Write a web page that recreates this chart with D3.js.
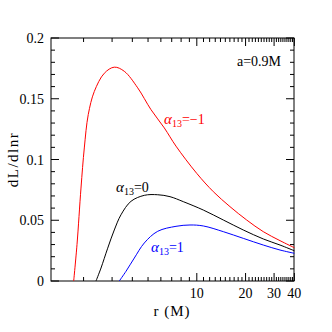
<!DOCTYPE html>
<html>
<head>
<meta charset="utf-8">
<script src="https://cdn.jsdelivr.net/npm/d3@7"></script>
<style>
  body { margin: 0; background: #fff; }
  text { font-family: 'Liberation Serif', serif; }
</style>
</head>
<body>
<svg id="chart"></svg>
<script>
// values
const rRed = [1.738, 1.822, 1.928, 2.021, 2.138, 2.33, 2.686, 3.095, 3.568, 4.316, 5.216, 6.301, 7.439, 9.99, 12.65, 16.03, 20.32, 25.73, 32.64, 40];
const vRed = [0, 0.030, 0.0765, 0.1095, 0.137, 0.156, 0.171, 0.176, 0.1726, 0.159, 0.141, 0.126, 0.111, 0.0886, 0.0735, 0.0612, 0.0502, 0.0406, 0.0332, 0.0274];

const rBlack = [2.387, 2.563, 2.818, 3.095, 3.404, 3.926, 4.742, 5.736, 6.833, 8.256, 10.97, 14.58, 19.36, 25.73, 32.64, 40];
const vBlack = [0, 0.0107, 0.027, 0.042, 0.0545, 0.0656, 0.0705, 0.071, 0.0694, 0.0653, 0.0584, 0.0502, 0.042, 0.0346, 0.0296, 0.0249];

const rBlue = [3.323, 3.656, 4.114, 4.742, 5.736, 7.439, 9.078, 10.97, 14.58, 19.36, 25.73, 32.64, 40];
const vBlue = [0, 0.008, 0.0189, 0.0313, 0.0409, 0.045, 0.0461, 0.0453, 0.0406, 0.0351, 0.0296, 0.0255, 0.0228];

const xLabels = [10, 20, 30, 40];
const yMajor = [0, 0.05, 0.1, 0.15, 0.2];
const yLabels = ['0', '0.05', '0.1', '0.15', '0.2'];

const margin = {top: 38, bottom: 51, left: 51, right: 38};
const width = 332 - margin.left - margin.right;
const height = 332 - margin.top - margin.bottom;

const svg = d3.select('#chart')
.attr('width', 332)
.attr('height', 332)
.append('g')
.attr('transform', `translate(${margin.left}, ${margin.top})`);

const x = d3.scaleLog()
.domain([Math.pow(10, 0.1), Math.pow(10, 1.6)])
.range([0, width]);

const y = d3.scaleLinear()
.domain([0, 0.2])
.range([height, 0]);

// tick positions: every integer on x, every 0.01 on y
const xMinor = d3.range(2, 41).filter(d => xLabels.indexOf(d) < 0);
const yMinor = d3.range(0, 21).map(d => d / 100).filter(d => d % 0.05 > 1e-6 && 0.05 - d % 0.05 > 1e-6);

function ticks(g, vals, len, isX) {
  vals.forEach(v => {
    if (isX) {
      const px = x(v);
      if (px > width + 0.5) return;
      g.append('line').attr('x1', px).attr('x2', px).attr('y1', height).attr('y2', height - len);
      g.append('line').attr('x1', px).attr('x2', px).attr('y1', 0).attr('y2', len);
    } else {
      const py = y(v);
      g.append('line').attr('x1', 0).attr('x2', len).attr('y1', py).attr('y2', py);
      g.append('line').attr('x1', width).attr('x2', width - len).attr('y1', py).attr('y2', py);
    }
  });
}

const tg = svg.append('g').attr('stroke', '#000').attr('stroke-width', 1);
ticks(tg, xMinor, 4, true);
ticks(tg, xLabels, 8, true);
ticks(tg, yMinor, 4, false);
ticks(tg, yMajor, 8, false);

svg.append('rect')
.attr('width', width)
.attr('height', height)
.attr('fill', 'none')
.attr('stroke', '#000')
.attr('stroke-width', 1);

svg.selectAll('.xlab')
.data(xLabels)
.enter()
.append('text')
.attr('x', d => x(d))
.attr('y', height + 17)
.attr('text-anchor', 'middle')
.style('font-size', '14px')
.text(d => d);

svg.selectAll('.ylab')
.data(yMajor)
.enter()
.append('text')
.attr('x', -7)
.attr('y', d => y(d) + 5)
.attr('text-anchor', 'end')
.style('font-size', '14px')
.text((d, i) => yLabels[i]);

// three curves
const line = d3.line()
.x(d => x(d[0]))
.y(d => y(d[1]))
.curve(d3.curveCatmullRom.alpha(0.5));

const series = [
  {r: rRed, v: vRed, color: '#ff0000'},
  {r: rBlack, v: vBlack, color: '#000000'},
  {r: rBlue, v: vBlue, color: '#0000ff'}
];

series.forEach(s => {
  svg.append('path')
  .datum(s.r.map((r, i) => [r, s.v[i]]))
  .attr('fill', 'none')
  .attr('stroke', s.color)
  .attr('stroke-width', 1)
  .attr('d', line);
});

// curve labels
function alphaLabel(px, py, val, color) {
  const t = svg.append('text')
  .attr('x', px)
  .attr('y', py)
  .attr('fill', color)
  .style('font-size', '14px');
  t.append('tspan').style('font-style', 'italic').style('font-size', '15px').text('α');
  t.append('tspan').attr('dy', 3).style('font-size', '10px').text('13');
  t.append('tspan').attr('dy', -3).text('=' + val);
}
alphaLabel(164 - margin.left, 124 - margin.top, '−1', '#ff0000');
alphaLabel(116 - margin.left, 192 - margin.top, '0', '#000000');
alphaLabel(151 - margin.left, 252 - margin.top, '1', '#0000ff');

svg.append('text')
.attr('x', 281 - margin.left)
.attr('y', 66 - margin.top)
.attr('text-anchor', 'end')
.style('font-size', '14px')
.text('a=0.9M');

svg.append('text')
.attr('x', 172 - margin.left)
.attr('y', height + 35)
.attr('text-anchor', 'middle')
.style('font-size', '15px')
.style('letter-spacing', '1px')
.text('r (M)');

svg.append('text')
.attr('transform', 'rotate(-90)')
.attr('x', -height / 2)
.attr('y', -33)
.attr('text-anchor', 'middle')
.style('font-size', '15px')
.style('letter-spacing', '1.5px')
.text('dL/dlnr');
</script>
</body>
</html>
